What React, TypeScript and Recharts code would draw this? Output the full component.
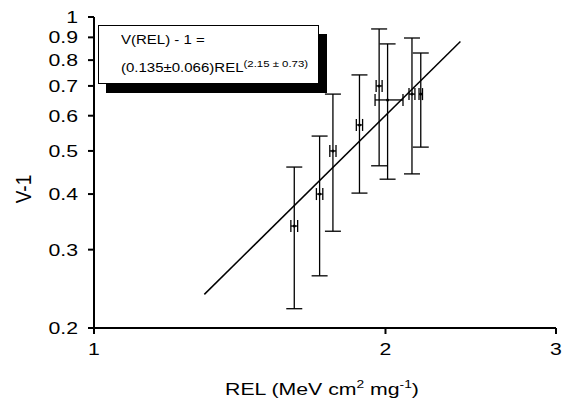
import React from "react";
import { ScatterChart, Scatter, XAxis, YAxis, ErrorBar } from "recharts";

// measured points (REL in MeV cm2/mg, V-1)
const relValues = [1.61, 1.71, 1.765, 1.88, 1.97, 2.01, 2.13, 2.175];
const vValues = [0.339, 0.4, 0.5, 0.572, 0.7, 0.651, 0.671, 0.671];
const vLow = [0.221, 0.262, 0.33, 0.402, 0.463, 0.432, 0.444, 0.51];
const vHigh = [0.46, 0.54, 0.671, 0.741, 0.94, 0.87, 0.897, 0.83];
const relLow = [1.597, 1.697, 1.752, 1.866, 1.956, 1.951, 2.115, 2.166];
const relHigh = [1.623, 1.723, 1.778, 1.894, 1.984, 2.085, 2.145, 2.184];

// fitted power law, end points of the drawn line
const fitRel = [1.3, 2.39];
const fitV = [0.238, 0.881];

const xTicks = [1, 2, 3];
const yTicks = [0.2, 0.3, 0.4, 0.5, 0.6, 0.7, 0.8, 0.9, 1];

const FONT = "'Liberation Sans', Arial, sans-serif";
const STRETCH = 1.25; // the scan is wider than tall

const points = relValues.map((rel, i) => ({
  rel,
  v: vValues[i],
  yErr: [vValues[i] - vLow[i], vHigh[i] - vValues[i]],
  xErr: [rel - relLow[i], relHigh[i] - rel],
}));

const fit = fitRel.map((rel, i) => ({ rel, v: fitV[i] }));

function XTick({ x, y, payload }: any) {
  return (
    <g transform={`translate(${x},${y})`}>
      <text transform={`scale(${STRETCH},1)`} textAnchor="middle" dy="0.71em" fontSize={17} fontFamily={FONT} fill="#000">
        {payload.value}
      </text>
    </g>
  );
}

function YTick({ x, y, payload }: any) {
  return (
    <g transform={`translate(${x},${y})`}>
      <text transform={`scale(${STRETCH},1)`} textAnchor="end" dy="0.355em" fontSize={17} fontFamily={FONT} fill="#000">
        {payload.value}
      </text>
    </g>
  );
}

export default function App() {
  return (
    <div style={{ position: "absolute", left: 0, top: 0, width: 564, height: 403, background: "#fff" }}>
      <ScatterChart width={564} height={403} margin={{ top: 17, right: 8, bottom: 0, left: 0 }}>
        <XAxis
          xAxisId="bottom"
          dataKey="rel"
          type="number"
          scale="log"
          domain={[1, 3]}
          ticks={xTicks}
          interval={0}
          allowDataOverflow
          height={75}
          stroke="#000"
          strokeWidth={2}
          tickSize={6}
          tickMargin={9}
          tick={<XTick />}
        />
        <XAxis
          xAxisId="top"
          orientation="top"
          type="number"
          scale="log"
          domain={[1, 3]}
          ticks={xTicks}
          interval={0}
          allowDataOverflow
          height={0}
          mirror
          stroke="#000"
          strokeWidth={2}
          tickSize={6}
          tick={false}
        />
        <YAxis
          yAxisId="left"
          dataKey="v"
          type="number"
          scale="log"
          domain={[0.2, 1]}
          ticks={yTicks}
          interval={0}
          allowDataOverflow
          width={94}
          stroke="#000"
          strokeWidth={2}
          tickSize={6}
          tickMargin={10}
          tick={<YTick />}
        />
        <YAxis
          yAxisId="right"
          orientation="right"
          type="number"
          scale="log"
          domain={[0.2, 1]}
          ticks={yTicks}
          interval={0}
          allowDataOverflow
          width={0}
          mirror
          stroke="#000"
          strokeWidth={2}
          tickSize={6}
          tick={false}
        />
        <Scatter
          data={fit}
          xAxisId="bottom"
          yAxisId="left"
          dataKey="v"
          line={{ stroke: "#000", strokeWidth: 1.5 }}
          shape={() => <g />}
          isAnimationActive={false}
        />
        <Scatter
          data={points}
          xAxisId="bottom"
          yAxisId="left"
          dataKey="v"
          fill="#000"
          shape={(p: any) => <circle cx={p.cx} cy={p.cy} r={1.5} fill="#000" />}
          isAnimationActive={false}
        >
          <ErrorBar dataKey="yErr" direction="y" width={8} stroke="#000" strokeWidth={1.3} />
          <ErrorBar dataKey="xErr" direction="x" width={6} stroke="#000" strokeWidth={1.3} />
        </Scatter>
      </ScatterChart>

      {/* fit equation box with drop shadow */}
      <div
        style={{
          position: "absolute",
          left: 98,
          top: 25,
          width: 219,
          height: 57,
          border: "1.5px solid #000",
          background: "#fff",
          boxShadow: "8px 9px 0 #000",
          color: "#000",
        }}
      >
        <div
          style={{
            position: "absolute",
            left: 22,
            top: 7,
            fontFamily: FONT,
            fontSize: 12.5,
            whiteSpace: "nowrap",
            transform: "scaleX(1.2)",
            transformOrigin: "left top",
          }}
        >
          V(REL) - 1 =
        </div>
        <div
          style={{
            position: "absolute",
            left: 22,
            top: 32,
            fontFamily: FONT,
            fontSize: 12.5,
            whiteSpace: "nowrap",
            transform: "scaleX(1.2)",
            transformOrigin: "left top",
          }}
        >
          (0.135±0.066)REL<sup style={{ fontSize: 9.5 }}>(2.15 ± 0.73)</sup>
        </div>
      </div>

      <div
        style={{
          position: "absolute",
          left: 24,
          top: 189,
          transform: "translate(-50%, -50%) rotate(-90deg) scaleY(1.2)",
          fontFamily: FONT,
          fontSize: 19,
          color: "#000",
          whiteSpace: "nowrap",
        }}
      >
        V-1
      </div>

      <div
        style={{
          position: "absolute",
          left: 322,
          top: 389,
          transform: "translate(-50%, -50%) scaleX(1.25)",
          fontFamily: FONT,
          fontSize: 17,
          color: "#000",
          whiteSpace: "nowrap",
        }}
      >
        REL (MeV cm<sup style={{ fontSize: 11 }}>2</sup> mg<sup style={{ fontSize: 11 }}>-1</sup>)
      </div>
    </div>
  );
}
